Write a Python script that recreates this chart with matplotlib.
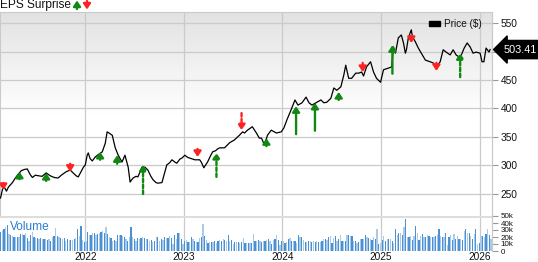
import numpy as np
import pandas as pd
import matplotlib
matplotlib.use("Agg")
import matplotlib.pyplot as plt
import matplotlib.dates as mdates
import matplotlib.transforms as mtransforms

plt.rcParams['font.family'] = ['Liberation Sans', 'DejaVu Sans']

# ---------------- data ----------------
price_dates = [
    "2021-02-21", "2021-02-28", "2021-03-07", "2021-03-15", "2021-03-22", "2021-04-06", "2021-04-17",
    "2021-04-28", "2021-05-09", "2021-05-20", "2021-05-31", "2021-06-11", "2021-06-19", "2021-06-30",
    "2021-07-11", "2021-07-25", "2021-08-09", "2021-08-24", "2021-09-08", "2021-09-22", "2021-10-07",
    "2021-10-22", "2021-11-06", "2021-11-17", "2021-11-28", "2021-12-06", "2021-12-14", "2021-12-25",
    "2022-01-01", "2022-01-08", "2022-01-12", "2022-01-19", "2022-01-27", "2022-02-07", "2022-02-18",
    "2022-03-05", "2022-03-16", "2022-03-23", "2022-03-30", "2022-04-11", "2022-04-22", "2022-05-03",
    "2022-05-10", "2022-05-17", "2022-05-28", "2022-06-09", "2022-06-16", "2022-06-27", "2022-07-08",
    "2022-07-15", "2022-07-30", "2022-08-10", "2022-08-21", "2022-09-01", "2022-09-09", "2022-09-20",
    "2022-09-27", "2022-10-12", "2022-10-23", "2022-10-30", "2022-11-10", "2022-11-18", "2022-11-29",
    "2022-12-06", "2022-12-17", "2022-12-25",
    "2023-01-05", "2023-01-16", "2023-01-23", "2023-02-11", "2023-03-01", "2023-03-08", "2023-03-16",
    "2023-03-23", "2023-03-30", "2023-04-11", "2023-04-18", "2023-04-29", "2023-05-06", "2023-05-14",
    "2023-06-01", "2023-06-20", "2023-07-08", "2023-07-26", "2023-08-07", "2023-08-14", "2023-08-25",
    "2023-09-12", "2023-09-27", "2023-10-08", "2023-10-16", "2023-10-27", "2023-11-07", "2023-11-21",
    "2023-12-10", "2023-12-28",
    "2024-01-07", "2024-01-18", "2024-02-02", "2024-02-17", "2024-02-28", "2024-03-14", "2024-03-29",
    "2024-04-09", "2024-04-20", "2024-05-08", "2024-05-23", "2024-06-03", "2024-06-14", "2024-06-29",
    "2024-07-10", "2024-07-21", "2024-08-05", "2024-08-16", "2024-08-23", "2024-09-03", "2024-09-14",
    "2024-09-29", "2024-10-10", "2024-10-21", "2024-10-28", "2024-11-08", "2024-11-23", "2024-12-04",
    "2024-12-15", "2024-12-30",
    "2025-01-10", "2025-01-29", "2025-02-09", "2025-02-16", "2025-02-23", "2025-03-06", "2025-03-17",
    "2025-03-25", "2025-04-01", "2025-04-05", "2025-04-12", "2025-04-23", "2025-04-27", "2025-05-08",
    "2025-05-19", "2025-05-30", "2025-06-14", "2025-07-02", "2025-07-13", "2025-07-25", "2025-08-08",
    "2025-08-19", "2025-08-30", "2025-09-14", "2025-09-25", "2025-10-06", "2025-10-21", "2025-11-05",
    "2025-11-16", "2025-11-27", "2025-12-08", "2025-12-19",
    "2026-01-03", "2026-01-10", "2026-01-17", "2026-01-25", "2026-02-05", "2026-02-09",
]
price_values = [
    243, 258, 262, 255, 262, 270, 278, 285, 291, 293, 294, 284, 279, 283, 282, 281, 287, 282, 279, 278,
    284, 289, 292, 287, 282, 280, 287, 297,
    301, 318, 322, 312, 308, 315, 319, 324, 339, 359, 357, 353, 331, 318, 312, 306, 318, 297, 271, 278,
    281, 280, 297, 297, 292, 281, 275, 270, 269, 270, 289, 301, 305, 310, 306, 304, 311, 313,
    318, 314, 313, 310, 310, 305, 296, 301, 306, 318, 324, 326, 329, 331, 331, 340, 345, 353, 359, 357,
    362, 368, 357, 348, 348, 336, 353, 362, 357, 359,
    366, 380, 397, 415, 406, 410, 420, 410, 406, 411, 415, 410, 411, 418, 436, 432, 438, 459, 476, 453,
    453, 462, 462, 464, 457, 473, 482, 464, 453, 446,
    468, 471, 473, 508, 497, 524, 529, 515, 497, 503, 524, 538, 526, 517, 506, 497, 485, 482, 480, 473,
    482, 503, 499, 494, 503, 494, 489, 506, 515, 508, 497, 499,
    497, 482, 482, 506, 499, 503.41,
]
last_price = 503.41

eps_dates = ["2021-03-03", "2021-05-02", "2021-08-09", "2021-11-06", "2022-02-25", "2022-04-29",
             "2022-08-03", "2023-02-21", "2023-05-02", "2023-08-03", "2023-11-03", "2024-02-21",
             "2024-05-01", "2024-07-28", "2024-10-25", "2025-02-12", "2025-04-23", "2025-07-25",
             "2025-10-21"]
eps_beat = [False, True, True, False, True, True, True, False, True, False, True, True, True, True,
            False, True, False, False, True]
eps_tip = [257, 289, 287, 289, 324, 318, 301, 315, 322, 362, 348, 404, 410, 429, 464, 511, 515, 466, 497]
eps_tail = [269, 276, 273, 303, 310, 303, 250, 329, 280, 392, 334, 355, 361, 415, 480, 461, 527, 480, 455]
eps_dashed = [False, False, False, False, False, False, True, False, True, True, False, False, False,
              False, False, False, False, False, True]

volume_k = [
    27.1, 29.5, 31.9, 34.3, 37.6, 24.8, 23.3, 21.4, 20.5, 20, 19.5, 19.5, 24.3, 24.3, 22.4, 25.2, 18.6,
    13.8, 22.4, 27.1, 20, 18.6, 18.6, 17.6, 18.6, 17.6, 16.7, 16.7, 15.7, 16.7, 14.8, 20.5, 21.4, 33.3,
    21.4, 20, 18.6, 17.6, 18.6, 14.3, 16.7, 15.7, 15.7, 15.7, 17.6, 18.6, 31, 21.4, 35.7, 15.2, 12.9,
    13.8, 27.1, 23.3, 22.4, 26.2, 25.2, 22.4, 24.8, 26.2, 27.1, 29, 26.2, 34.3, 24.3, 20.5, 18.6, 14.8,
    15.7, 14.8, 23.3, 23.3, 22.4, 21.4, 20.5, 16.7, 14.8, 20, 33.8, 19.5, 17.6, 13.8, 18.6, 16.7, 18.6,
    19.5, 18.6, 17.6, 16.7, 14.8, 15.7, 12.9, 14.8, 19.5, 20.5, 13.8, 17.6, 15.2,
    20, 19, 18.6, 21.4, 18.6, 10, 22.4, 17.6, 26.2, 26.2, 16.7, 10.5, 14.8, 15.2, 12.9, 12.9, 20, 16.7,
    13.8, 12.9, 12.9, 18.6, 20, 39, 21.4, 15.2, 11.9, 12.9, 12.9, 12.9, 13.8, 11.9, 13.8, 15.2, 13.8,
    16.7, 15.7, 14.8, 22.4, 14.8, 15.2, 10.5, 12.9, 12.9, 12.9, 11.9, 12.9, 18.6, 11.9, 11, 11, 11.9,
    11.9, 24.3, 13.8, 14.8, 15.2, 13.8, 12.9, 13.8, 13.8, 15.7, 16.7, 14.8, 10, 15.7, 16.7, 22.4, 15.7,
    9, 14.8, 13.8, 11.9, 12.9, 17.6, 18.6, 14.8, 14.8, 13.8, 11.9, 23.3, 19.5, 19.5, 15.7, 12.9, 12.9,
    13.8, 13.8, 12.9, 13.8, 12.9, 13.8, 12.9, 12.9, 13.8, 16.7, 16.7, 15.7,
    20, 21.4, 11.9, 18.6, 21.4, 13.8, 16.7, 22.4, 14.8, 14.8, 14.8, 23.3, 22.4, 21.4, 21.4, 13.8, 13.8,
    11.9, 12.9, 17.6, 16.7, 16.7, 23.3, 20.5, 18.6, 16.7, 15.7, 19.5, 16.7, 31, 10, 11.9, 15.7, 21.4,
    14.8, 17.6, 17.6, 17.6, 13.8, 11.9, 31, 23.3, 25.2, 25.2, 23.3, 34.3, 45.2, 20.5, 20, 21.4, 15.7,
    21.4, 35.7, 26.2, 15.7, 21.4, 24.3, 19.5, 19.5, 22.4, 21.4, 20.5, 20.5, 20.5, 21.4, 22.4, 31, 21.4,
    20.5, 19.5, 25.2, 9, 19.5, 23.3, 15.7, 24.3, 17.6, 21.4, 17.6, 16.7, 15.7, 29, 31, 26.2, 26.2, 21.4,
    17.6, 24.3, 31, 10, 11.9, 21.4, 21.4, 20.5, 24.8, 31, 22.4, 17.6,
]
volume_start, volume_end = "2021-02-21", "2026-02-12"

year_labels = ["2022", "2023", "2024", "2025", "2026"]
price_ticks = [250, 300, 350, 400, 450, 500, 550]
volume_ticks = [0, 10, 20, 30, 40, 50]
x_start, x_end = "2021-02-19", "2026-02-16"

# ---------------- figure ----------------
W, H = 538, 262
fig = plt.figure(figsize=(W / 100, H / 100), dpi=100)
ax = fig.add_axes([0, 1 - 216 / H, 492 / W, 204 / H])
axv = fig.add_axes([0, 1 - 251 / H, 492 / W, 35 / H])

pdates = pd.to_datetime(price_dates)
xlim = (mdates.date2num(pd.Timestamp(x_start)), mdates.date2num(pd.Timestamp(x_end)))
year_pos = [mdates.date2num(pd.Timestamp(y + "-01-01")) for y in year_labels]

# gradient background
grad = np.linspace(0, 1, 256).reshape(-1, 1)
shade = np.clip((grad - 0.5) / 0.5, 0, 1)
g = 1 - (1 - 0xe2 / 255) * shade
img = np.dstack([g, g, g])
ax.imshow(img, extent=[0, 1, 0, 1], transform=ax.transAxes, origin='lower', aspect='auto', zorder=0)

grid_c = '#cacaca'
for a in (ax, axv):
    a.set_xlim(*xlim)
    a.set_xticks(year_pos)
    for yp in year_pos:
        a.axvline(yp, color=grid_c, lw=0.9, zorder=1)
    for s in ('left', 'bottom', 'top'):
        a.spines[s].set_visible(False)
    a.spines['right'].set_color(grid_c)
    a.spines['right'].set_linewidth(0.9)

ax.spines['top'].set_visible(True)
ax.spines['top'].set_color(grid_c)
ax.spines['left'].set_visible(True)
ax.spines['left'].set_color(grid_c)

# price panel
ax.set_ylim(211.4, 569.3)
for t in price_ticks:
    ax.axhline(t, color=grid_c, lw=0.9, zorder=1)
ax.plot(pdates, price_values, color='black', lw=0.9, zorder=3)
ax.yaxis.tick_right()
ax.set_yticks(price_ticks)
ax.set_yticklabels([str(t) if t != 500 else '' for t in price_ticks])
ax.tick_params(axis='y', length=4, width=0.8, color='#999999', labelsize=7.3, pad=2, labelcolor='#111111')
ax.tick_params(axis='x', length=0, labelbottom=False)

ARROW = '-|>,head_length=0.4,head_width=0.27'

# EPS arrows
for d, beat, tip, tail, dashed in zip(eps_dates, eps_beat, eps_tip, eps_tail, eps_dashed):
    dn = mdates.date2num(pd.Timestamp(d))
    col = '#118811' if beat else '#ff2222'
    ls = (0, (1.5, 1.0)) if dashed else 'solid'
    ax.annotate('', xy=(dn, tip), xytext=(dn, tail),
                arrowprops=dict(arrowstyle=ARROW, color=col,
                                lw=1.7, linestyle=ls, shrinkA=0, shrinkB=0, mutation_scale=8),
                zorder=4)

# price tag
trans = mtransforms.blended_transform_factory(ax.transAxes, ax.transData)
ax.annotate(f"{last_price:.2f}", xy=(1.0, last_price), xycoords=trans,
            xytext=(8.5, 0), textcoords='offset points', ha='left', va='center',
            color='white', fontsize=7.8, annotation_clip=False,
            bbox=dict(boxstyle='larrow,pad=0.38', fc='black', ec='black'), zorder=10)

# legend
fig.patches.append(plt.Rectangle((429 / W, 1 - 26 / H), 11 / W, 5 / H, transform=fig.transFigure,
                                 color='black', figure=fig))
fig.text(444 / W, 1 - 24 / H, "Price ($)", fontsize=7.2, va='center', ha='left', color='#111111')

# header
fig.text(0 / W, 1 - 5 / H, "EPS Surprise", fontsize=8.6, va='center', ha='left', color='#111111')
fig_px = 'figure pixels'
ax.annotate('', xy=(77, H - 0.5), xycoords=fig_px, xytext=(77, H - 9), textcoords=fig_px,
            arrowprops=dict(arrowstyle=ARROW, color='#118811',
                            lw=1.7, shrinkA=0, shrinkB=0, mutation_scale=8), annotation_clip=False)
ax.annotate('', xy=(87, H - 9.5), xycoords=fig_px, xytext=(87, H - 1), textcoords=fig_px,
            arrowprops=dict(arrowstyle=ARROW, color='#ff2222',
                            lw=1.7, shrinkA=0, shrinkB=0, mutation_scale=8), annotation_clip=False)

# volume panel
vdates = pd.date_range(volume_start, volume_end, periods=len(volume_k))
spacing = (vdates[1] - vdates[0]).total_seconds() / 86400
colors = ['#4a90d2' if i % 2 == 0 else '#a9cbeb' for i in range(len(volume_k))]
axv.bar(vdates, volume_k, width=spacing * 0.75, color=colors, zorder=2)
axv.set_ylim(0, 50)
axv.axhline(50, color='#dddddd', lw=2.2, zorder=1)
axv.yaxis.tick_right()
axv.set_yticks(volume_ticks)
axv.set_yticklabels(['0' if v == 0 else f"{v}k" for v in volume_ticks])
axv.tick_params(axis='y', length=4, width=0.8, color='#999999', labelsize=5.8, pad=2, labelcolor='#111111')
axv.set_xticklabels(year_labels)
axv.tick_params(axis='x', length=0, labelsize=7.3, pad=0.8, labelcolor='#111111')
axv.patch.set_alpha(0)
fig.text(10 / W, 1 - 227 / H, "Volume", fontsize=8.6, va='center', ha='left', color='#2b7fca')

fig.savefig("out.png", dpi=100)
